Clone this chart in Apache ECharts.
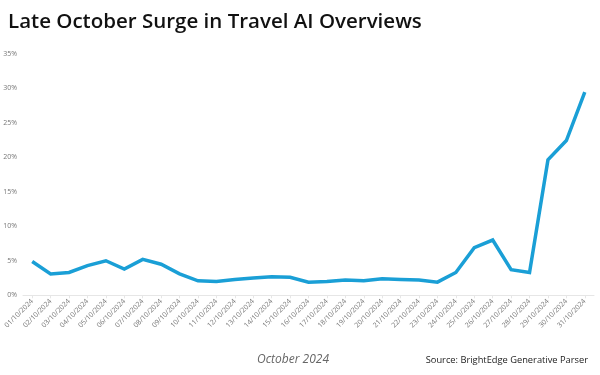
<!DOCTYPE html>
<html>
<head>
<meta charset="utf-8">
<script src="https://cdn.jsdelivr.net/npm/echarts@6/dist/echarts.min.js"></script>
<style>
  html, body { margin: 0; padding: 0; background: #fff; }
  #chart { width: 600px; height: 375px; }
</style>
</head>
<body>
<div id="chart"></div>
<script>
// 日期 (x轴)
var days = [];
for (var d = 1; d <= 31; d++) {
  days.push((d < 10 ? '0' + d : '' + d) + '/10/2024');
}
// AI Overviews 占比 (%)
var shareValues = [4.9, 3.1, 3.3, 4.3, 5.0, 3.8, 5.2, 4.5, 3.1, 2.1,
                   2.0, 2.3, 2.5, 2.7, 2.6, 1.9, 2.0, 2.2, 2.1, 2.4,
                   2.3, 2.2, 1.9, 3.3, 6.9, 8.0, 3.7, 3.3, 19.6, 22.4, 29.4];
var yTicks = [0, 5, 10, 15, 20, 25, 30, 35];

var myChart = echarts.init(document.getElementById('chart'));
myChart.setOption({
  backgroundColor: '#fff',
  animation: false,
  title: [{
    text: 'Late October Surge in Travel AI Overviews',
    left: 3,
    top: 7,
    textStyle: {
      fontFamily: 'Open Sans',
      fontWeight: 600,
      fontSize: 20.5,
      color: '#111'
    }
  }, {
    // x轴名称, 参考图里偏左
    text: 'October 2024',
    left: 252,
    top: 349,
    textStyle: {
      fontFamily: 'Open Sans',
      fontStyle: 'italic',
      fontWeight: 'normal',
      fontSize: 12,
      color: '#666'
    }
  }, {
    text: 'Source: BrightEdge Generative Parser',
    right: 7,
    top: 351,
    textStyle: {
      fontFamily: 'Open Sans',
      fontWeight: 'normal',
      fontSize: 9.3,
      color: '#222'
    }
  }],
  grid: {
    left: 23,
    right: 6,
    top: 53.5,
    bottom: 79.7
  },
  xAxis: {
    type: 'category',
    data: days,
    boundaryGap: true,
    axisLine: { show: true, lineStyle: { color: '#e6e6e6', width: 1 } },
    axisTick: { show: true, alignWithLabel: true, length: 3, lineStyle: { color: '#e6e6e6' } },
    axisLabel: {
      interval: 0,
      rotate: 45,
      fontSize: 7,
      color: '#777',
      fontFamily: 'Open Sans',
      margin: 5
    }
  },
  yAxis: {
    type: 'value',
    min: yTicks[0],
    max: yTicks[yTicks.length - 1],
    interval: 5,
    axisLine: { show: false },
    axisTick: { show: false },
    splitLine: { show: false },
    axisLabel: {
      formatter: '{value}%',
      fontSize: 7,
      color: '#777',
      fontFamily: 'Open Sans',
      margin: 6
    }
  },
  series: [{
    name: 'Share',
    type: 'line',
    data: shareValues,
    symbol: 'none',
    lineStyle: { color: '#1a9fd6', width: 3.5, join: 'miter' },
    itemStyle: { color: '#1a9fd6' }
  }]
});
</script>
</body>
</html>
